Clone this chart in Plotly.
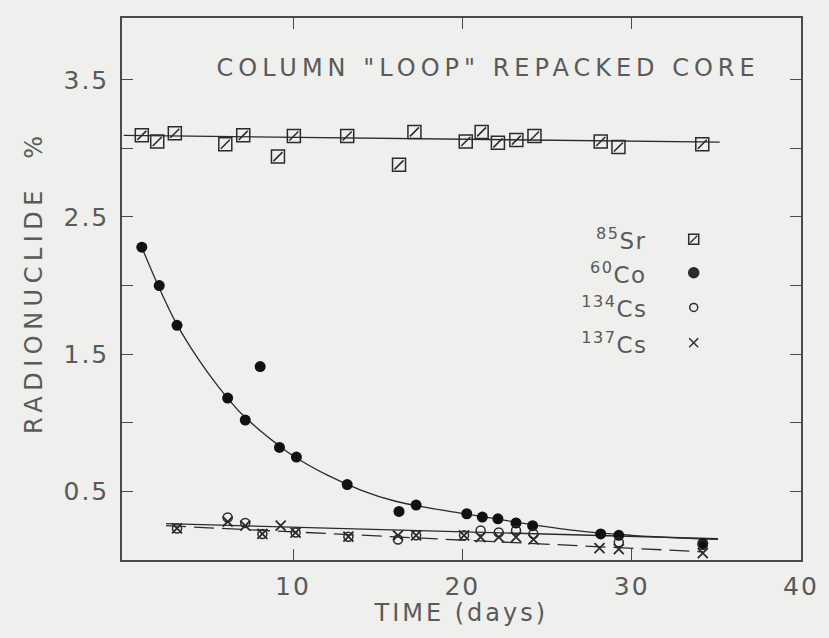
import plotly.graph_objects as go

# --- measured data -------------------------------------------------------
sr_days = [1.07, 1.98, 3.02, 6.0, 7.06, 9.11, 10.05, 13.2, 16.26, 17.17,
           20.2, 21.14, 22.1, 23.19, 24.26, 28.17, 29.22, 34.17]
sr_pct = [3.095, 3.05, 3.11, 3.03, 3.095, 2.94, 3.09, 3.09, 2.88, 3.12,
          3.05, 3.12, 3.04, 3.06, 3.09, 3.05, 3.01, 3.03]

co_days = [1.07, 2.1, 3.15, 6.14, 7.18, 8.06, 9.2, 10.2, 13.2, 16.26, 17.27,
           20.26, 21.18, 22.1, 23.17, 24.15, 28.17, 29.24, 34.2]
co_pct = [2.28, 2.00, 1.71, 1.18, 1.02, 1.41, 0.82, 0.75, 0.55, 0.354, 0.40,
          0.337, 0.313, 0.30, 0.27, 0.25, 0.19, 0.18, 0.12]

cs134_days = [3.15, 6.14, 7.18, 8.19, 10.15, 13.27, 16.2, 17.27, 20.1, 21.08,
              22.15, 23.17, 24.2, 29.24, 34.2]
cs134_pct = [0.23, 0.31, 0.27, 0.19, 0.20, 0.17, 0.15, 0.18, 0.18, 0.215,
             0.20, 0.215, 0.19, 0.13, 0.11]

cs137_days = [3.15, 6.14, 7.18, 8.19, 9.27, 10.15, 13.27, 16.2, 17.27, 20.1,
              21.08, 22.15, 23.17, 24.2, 28.1, 29.24, 34.2]
cs137_pct = [0.23, 0.28, 0.25, 0.19, 0.25, 0.20, 0.17, 0.18, 0.18, 0.18,
             0.167, 0.167, 0.167, 0.15, 0.087, 0.08, 0.05]

# hand-drawn trend lines
sr_fit_days = [0.0, 35.2]
sr_fit_pct = [3.095, 3.045]
co_fit_days = [1.0, 2.0, 3.0, 4.0, 5.0, 6.0, 7.0, 8.0, 9.0, 10.0, 12.0, 14.0,
               16.0, 18.0, 20.0, 22.0, 24.0, 27.0, 30.0, 33.0, 35.1]
co_fit_pct = [2.30, 2.01, 1.75, 1.54, 1.36, 1.20, 1.06, 0.95, 0.85, 0.76, 0.62,
              0.51, 0.43, 0.38, 0.34, 0.30, 0.26, 0.21, 0.18, 0.16, 0.15]
cs134_fit_days = [2.5, 35.1]
cs134_fit_pct = [0.265, 0.155]
cs137_fit_days = [2.5, 34.2]
cs137_fit_pct = [0.25, 0.06]

# axis ticks: labelled every 10 days / every 1 % (from 0.5), unlabelled halves
x_ticks = [10, 20, 30, 40]
x_tick_text = ["10", "20", "30", "40"]
y_label_start = 0.5
y_label_step = 1.0
y_minor_step = 0.5

# key entries (labels + position inside the frame, fractions of the plot box)
key_labels = ["<sup>85</sup>Sr", "<sup>60</sup>Co", "<sup>134</sup>Cs", "<sup>137</sup>Cs"]
key_x = 0.842
key_label_x = 0.772
key_y = [0.592, 0.530, 0.466, 0.401]

INK = "#2b2b2b"
TEXT = "#5a5a5a"
AXIS = "#4a4a4a"
FONT = "DejaVu Sans"

fig = go.Figure()

# trend lines
fig.add_trace(go.Scatter(x=sr_fit_days, y=sr_fit_pct, mode="lines",
                         line=dict(color=INK, width=1.3), hoverinfo="skip"))
fig.add_trace(go.Scatter(x=co_fit_days, y=co_fit_pct, mode="lines",
                         line=dict(color=INK, width=1.3, shape="spline"),
                         hoverinfo="skip"))
fig.add_trace(go.Scatter(x=cs134_fit_days, y=cs134_fit_pct, mode="lines",
                         line=dict(color=INK, width=1.3), hoverinfo="skip"))
fig.add_trace(go.Scatter(x=cs137_fit_days, y=cs137_fit_pct, mode="lines",
                         line=dict(color=INK, width=1.3, dash="20px,8px"),
                         hoverinfo="skip"))

# 85Sr: open square with a diagonal stroke
fig.add_trace(go.Scatter(x=sr_days, y=sr_pct, mode="markers", name="85Sr",
                         marker=dict(symbol="square-open", size=13,
                                     color=INK, line=dict(width=1.5))))
fig.add_trace(go.Scatter(x=sr_days, y=sr_pct, mode="markers", hoverinfo="skip",
                         marker=dict(symbol="line-ne", size=9,
                                     color=INK, line=dict(width=1.6, color=INK))))
# 60Co: filled dots
fig.add_trace(go.Scatter(x=co_days, y=co_pct, mode="markers", name="60Co",
                         marker=dict(symbol="circle", size=11, color="#111111")))
# 134Cs: open circles
fig.add_trace(go.Scatter(x=cs134_days, y=cs134_pct, mode="markers", name="134Cs",
                         marker=dict(symbol="circle-open", size=9, color=INK,
                                     line=dict(width=1.5))))
# 137Cs: crosses
fig.add_trace(go.Scatter(x=cs137_days, y=cs137_pct, mode="markers", name="137Cs",
                         marker=dict(symbol="x-thin-open", size=10, color=INK,
                                     line=dict(width=1.8, color=INK))))

# key symbols on an overlay axis spanning the plot box
key_symbols = ["square-open", "circle", "circle-open", "x-thin-open"]
key_sizes = [10, 10, 8, 9]
for sym, sz, yy in zip(key_symbols, key_sizes, key_y):
    fig.add_trace(go.Scatter(x=[key_x], y=[yy], xaxis="x2", yaxis="y2",
                             mode="markers", hoverinfo="skip",
                             marker=dict(symbol=sym, size=sz, color=INK,
                                         line=dict(width=1.5, color=INK))))
fig.add_trace(go.Scatter(x=[key_x], y=[key_y[0]], xaxis="x2", yaxis="y2",
                         mode="markers", hoverinfo="skip",
                         marker=dict(symbol="line-ne", size=7, color=INK,
                                     line=dict(width=1.4, color=INK))))

annotations = []
for lab, yy in zip(key_labels, key_y):
    annotations.append(dict(text=lab, x=key_label_x, y=yy, xref="paper", yref="paper",
                            xanchor="right", yanchor="middle", showarrow=False,
                            font=dict(family=FONT, size=23, color=TEXT)))
annotations.append(dict(text='COLUMN "LOOP" REPACKED CORE', x=0.539, y=0.908,
                        xref="paper", yref="paper", xanchor="center", yanchor="middle",
                        showarrow=False, font=dict(family=FONT, size=24, color=TEXT)))
annotations.append(dict(text="RADIONUCLIDE  %", x=-0.13, y=0.513, textangle=-90,
                        xref="paper", yref="paper", xanchor="center", yanchor="middle",
                        showarrow=False, font=dict(family=FONT, size=24, color=TEXT)))
annotations.append(dict(text="TIME (days)", x=0.499, y=-0.098,
                        xref="paper", yref="paper", xanchor="center", yanchor="middle",
                        showarrow=False, font=dict(family=FONT, size=24, color=TEXT)))

axis_common = dict(showgrid=False, zeroline=False, showline=True, linecolor=AXIS,
                   linewidth=1.5, mirror="ticks", ticks="inside", ticklen=11,
                   tickwidth=1.4, tickcolor=AXIS,
                   tickfont=dict(family=FONT, size=25, color=TEXT))

fig.update_layout(
    width=829, height=638,
    margin=dict(l=122, r=22, t=18, b=78),
    paper_bgcolor="#efefed", plot_bgcolor="#efefed",
    showlegend=False,
    annotations=annotations,
    xaxis=dict(range=[-0.1, 40.0], tickmode="array", tickvals=x_ticks,
               ticktext=x_tick_text, ticklabelstandoff=3, **axis_common),
    yaxis=dict(range=[0, 3.95], tickmode="linear", tick0=y_label_start,
               dtick=y_label_step, tickformat=".1f", ticklabelstandoff=6,
               minor=dict(tick0=0.0, dtick=y_minor_step, ticks="inside", ticklen=11,
                          tickwidth=1.4, tickcolor=AXIS, showgrid=False),
               **axis_common),
    xaxis2=dict(range=[0, 1], overlaying="x", visible=False),
    yaxis2=dict(range=[0, 1], overlaying="y", visible=False),
)

# the lettering on this figure is widely spaced
spacing_js = """
document.querySelectorAll('.annotation-text').forEach(function (t) {
  var s = t.textContent;
  if (s.indexOf('COLUMN') >= 0) { t.style.letterSpacing = '5px'; }
  else if (s.indexOf('RADIONUCLIDE') >= 0) { t.style.letterSpacing = '5.5px'; }
  else if (s.indexOf('TIME') >= 0) { t.style.letterSpacing = '3px'; }
  else { t.style.letterSpacing = '1.5px'; }
});
document.querySelectorAll('.xtick text, .ytick text').forEach(function (t) {
  t.style.letterSpacing = '2px';
});
"""

fig.write_html("out.html", post_script=spacing_js)
